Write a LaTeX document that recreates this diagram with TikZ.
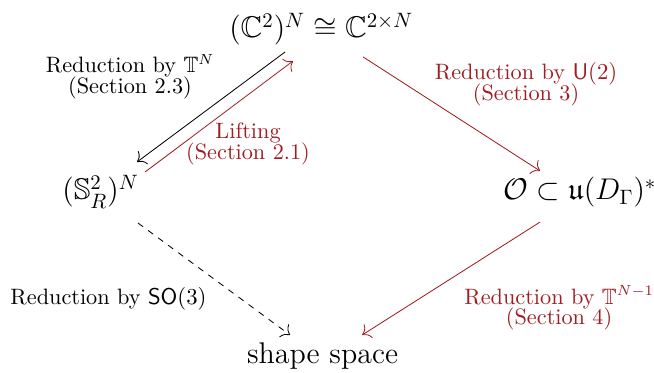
\documentclass[tikz,border=0pt]{standalone}
\usepackage{amsmath,amssymb}
\usepackage{xcolor}
\usepackage{tikz}
\usetikzlibrary{calc,arrows.meta,positioning}
\definecolor{redc}{HTML}{A01C22}
\tikzset{
  ar/.style={-{To[scale=1.5]},black},
  rar/.style={-{To[scale=1.5]},redc},
  sp/.style={font=\Large,anchor=base,inner sep=0pt},
  lbl/.style={font={\fontsize{10.7}{9.9}\selectfont\lineskiplimit=-10pt},align=center,inner sep=0pt}
}

\begin{document}
\begin{tikzpicture}
\useasboundingbox (0,0) rectangle (11.05,6.286);
% the four spaces
\node[sp] (cn) at (5.43,5.645) {$(\mathbb{C}^2)^N\cong\mathbb{C}^{2\times N}$};
\node[sp] (sn) at (1.70,2.907) {$(\mathbb{S}^2_R)^N$};
\node[sp] (orb) at (9.80,2.907) {$\mathcal{O}\subset\mathfrak{u}(D_\Gamma)^*$};
\node[sp] (shp) at (5.45,0.152) {shape space};
% reductions and lifting
\draw[ar] ([shift={(-0.613,-0.237)}]cn.base) -- ([shift={(0.615,0.642)}]sn.base);
\draw[rar] ([shift={(0.751,0.473)}]sn.base) -- ([shift={(-0.478,-0.389)}]cn.base);
\draw[rar] ([shift={(0.705,-0.321)}]cn.base) -- ([shift={(-0.674,0.49)}]orb.base);
\draw[rar] ([shift={(-0.674,-0.372)}]orb.base) -- ([shift={(0.668,0.473)}]shp.base);
\draw[ar,dashed] ([shift={(0.632,-0.389)}]sn.base) -- ([shift={(-0.549,0.473)}]shp.base);
% labels
\node[lbl] (redT) at (2.197,4.986) {Reduction by $\mathbb{T}^N$\\(Section 2.3)};
\node[lbl,text=redc] (lift) at (4.191,3.853) {Lifting\\(Section 2.1)};
\node[lbl,text=redc] (redU) at (8.889,4.867) {Reduction by $\mathsf{U}(2)$\\(Section 3)};
\node[lbl] (redSO) at (1.834,1.234) {Reduction by $\mathsf{SO}(3)$};
\node[lbl,text=redc] (redTT) at (9.447,1.082) {Reduction by $\mathbb{T}^{N-1}$\\(Section 4)};
\end{tikzpicture}
\end{document}
